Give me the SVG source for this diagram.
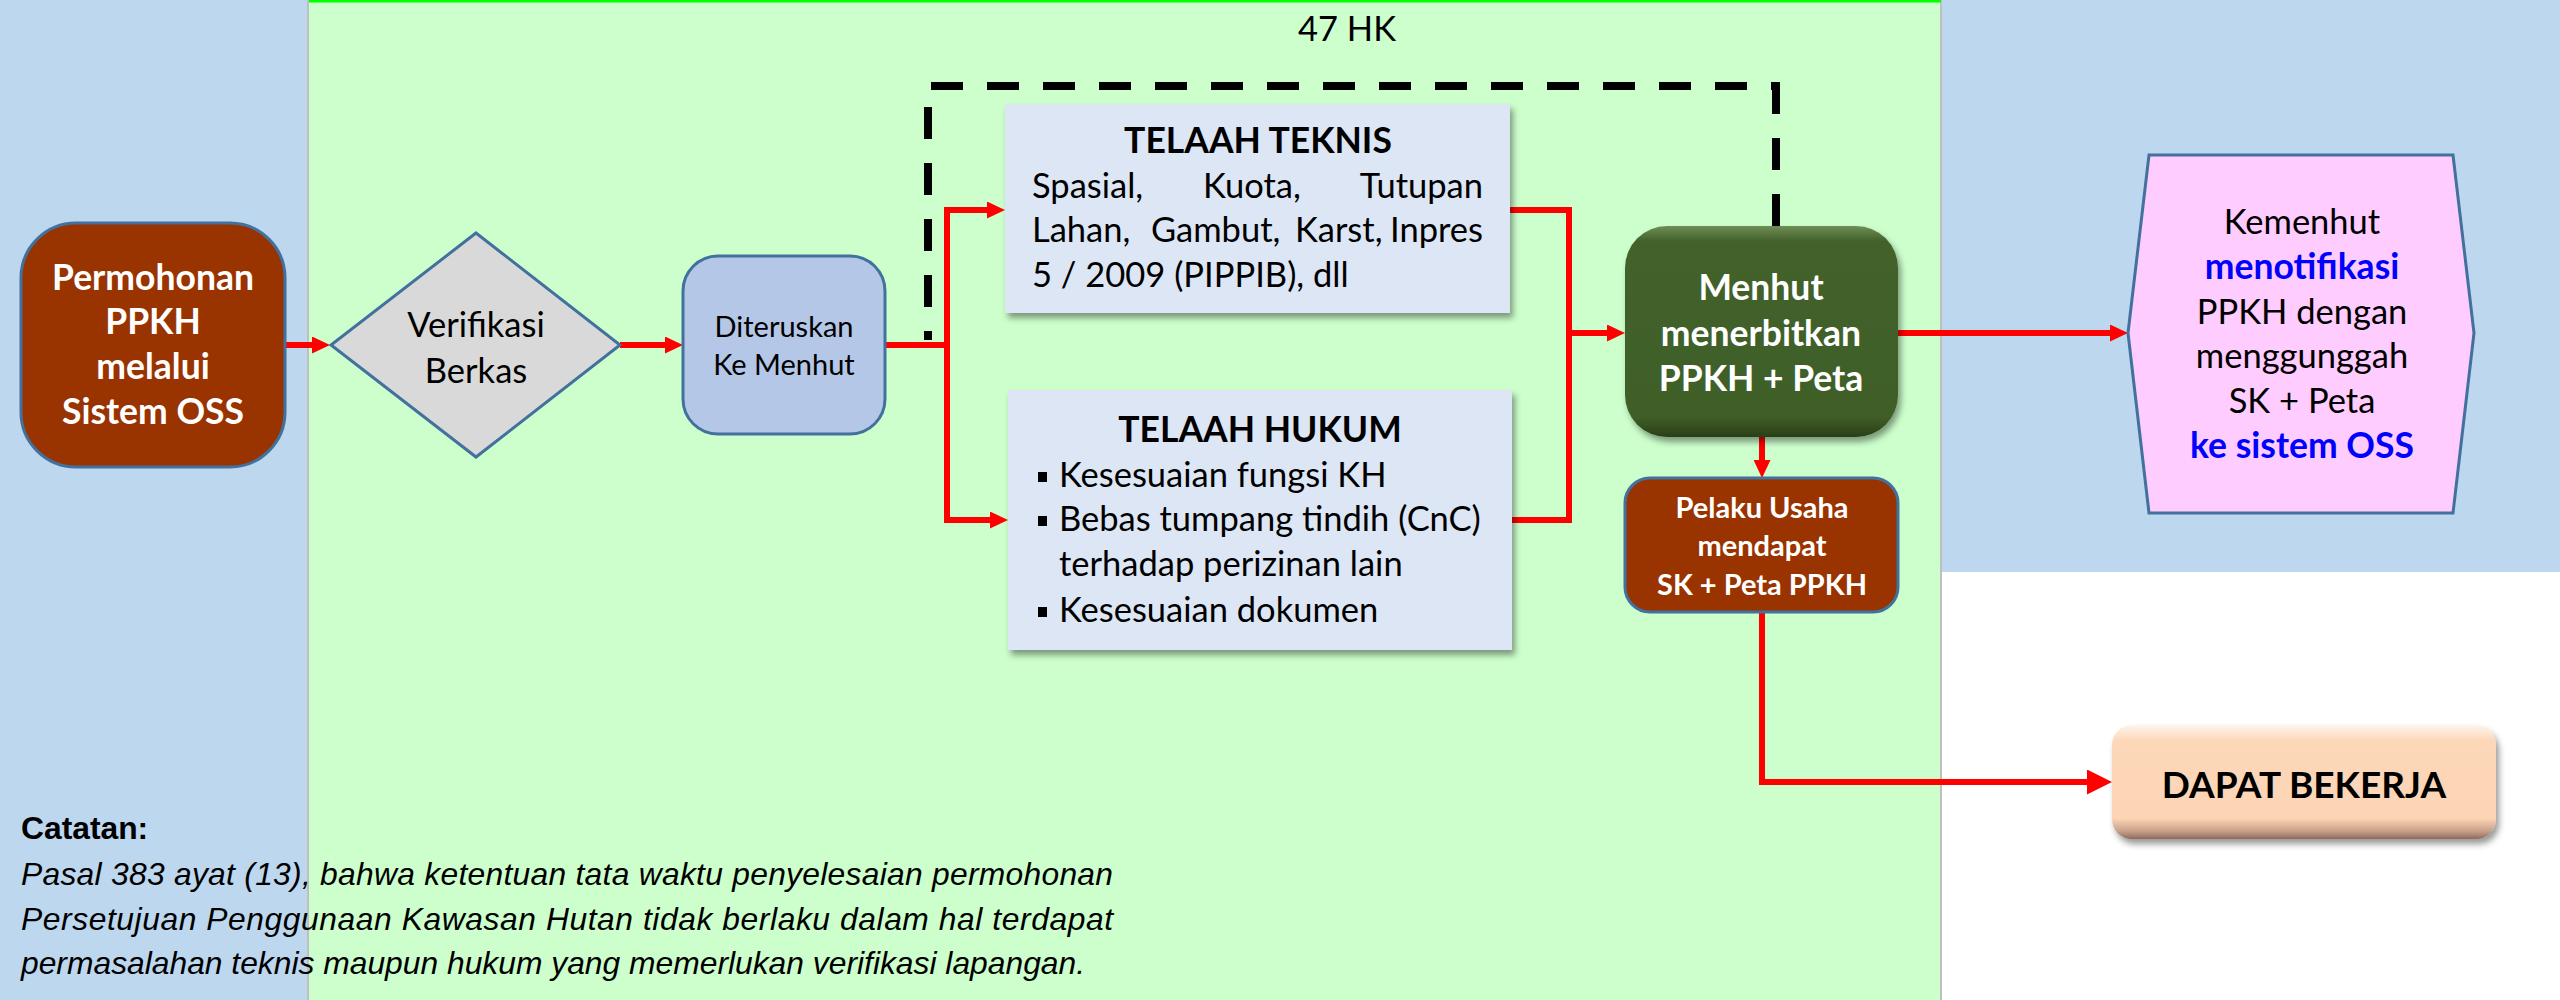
<svg xmlns="http://www.w3.org/2000/svg" width="2560" height="1000" viewBox="0 0 2560 1000">
<style>
.f{font-family:Lato,"Liberation Sans",sans-serif}
.s36{font-size:34.5px}
.s36.b{font-size:35.5px}
.s32{font-size:29px}
.s40{font-size:37px}
.b{font-weight:700}
.w{fill:#ffffff}
.k{fill:#000000}
.bl{fill:#0000ff}
.c{text-anchor:middle}
.note{font-family:"Liberation Sans",Arial,sans-serif;font-size:31.8px;fill:#000}
.red{stroke:#ff0000;stroke-width:6;fill:none}
.dash{stroke:#000;stroke-width:8;stroke-dasharray:32 24;fill:none}
.ns{stroke:#41719c;stroke-width:3}
</style>
<defs>
<marker id="ah" markerUnits="userSpaceOnUse" viewBox="0 0 18 17" markerWidth="18" markerHeight="17" refX="6" refY="8.5" orient="auto-start-reverse"><path d="M0,0 L18,8.5 L0,17 z" fill="#ff0000"/></marker>
<marker id="ahb" markerUnits="userSpaceOnUse" viewBox="0 0 25 25" markerWidth="25" markerHeight="25" refX="9" refY="12.5" orient="auto"><path d="M0,0 L25,12.5 L0,25 z" fill="#ff0000"/></marker>
<filter id="sh" x="-10%" y="-10%" width="130%" height="140%"><feDropShadow dx="3" dy="5" stdDeviation="3" flood-color="#000" flood-opacity="0.4"/></filter>
<linearGradient id="gG" x1="0" y1="0" x2="0" y2="1">
<stop offset="0" stop-color="#6f8e57"/><stop offset="0.07" stop-color="#43622b"/><stop offset="0.9" stop-color="#405f28"/><stop offset="1" stop-color="#2a3f18"/>
</linearGradient>
<linearGradient id="gP" x1="0" y1="0" x2="0" y2="1">
<stop offset="0" stop-color="#fff4ea"/><stop offset="0.14" stop-color="#fcd7b8"/><stop offset="0.82" stop-color="#fcd5b5"/><stop offset="0.93" stop-color="#c9a189"/><stop offset="1" stop-color="#8c6b5a"/>
</linearGradient>
</defs>

<g id="background">
<rect x="0" y="0" width="2560" height="1000" fill="#ffffff"/>
<rect x="0" y="0" width="309" height="1000" fill="#bdd7ee"/>
<rect x="309" y="0" width="1632" height="1000" fill="#ccffcc"/>
<rect x="1941" y="0" width="619" height="572" fill="#bdd7ee"/>
<line x1="308" y1="0" x2="308" y2="1000" stroke="#bfbfbf" stroke-width="2"/>
<line x1="1941" y1="0" x2="1941" y2="1000" stroke="#bfbfbf" stroke-width="2"/>
<line x1="309" y1="1" x2="1941" y2="1" stroke="#00ff00" stroke-width="3"/>
<text class="f s36 k c" x="1347" y="41">47 HK</text>
</g>

<g id="connectors">
<line class="dash" x1="928" y1="107" x2="928" y2="340"/>
<line class="dash" x1="931" y1="86" x2="1772" y2="86"/>
<line class="dash" x1="1776" y1="82" x2="1776" y2="226"/>
<path class="red" d="M285,345 H318" marker-end="url(#ah)"/>
<path class="red" d="M620,345 H671" marker-end="url(#ah)"/>
<path class="red" d="M885,345 H947"/>
<path class="red" d="M993,210 H947 V520 H996" marker-start="url(#ah)" marker-end="url(#ah)"/>
<path class="red" d="M1510,210 H1569 V520 H1512"/>
<path class="red" d="M1569,333 H1613" marker-end="url(#ah)"/>
<path class="red" d="M1898,333 H2116" marker-end="url(#ah)"/>
<path class="red" d="M1762,437 V466" marker-end="url(#ah)"/>
<path class="red" d="M1762,612 V782 H2096" marker-end="url(#ahb)"/>
</g>

<g id="permohonan">
<rect class="ns" x="21" y="223" width="264" height="244" rx="55" fill="#993300"/>
<text class="f s36 b w c" x="153" y="290">Permohonan</text>
<text class="f s36 b w c" x="153" y="334">PPKH</text>
<text class="f s36 b w c" x="153" y="379">melalui</text>
<text class="f s36 b w c" x="153" y="424">Sistem OSS</text>
</g>

<g id="verifikasi">
<polygon class="ns" points="476,233 620,345 476,457 331,345" fill="#d9d9d9"/>
<text class="f s36 k c" x="476" y="337">Verifikasi</text>
<text class="f s36 k c" x="476" y="383">Berkas</text>
</g>

<g id="diteruskan">
<rect class="ns" x="683" y="256" width="202" height="178" rx="35" fill="#b4c7e7"/>
<text class="f s32 k c" x="784" y="337">Diteruskan</text>
<text class="f s32 k c" x="784" y="375">Ke Menhut</text>
</g>

<g id="telaah-teknis">
<rect x="1005" y="104" width="505" height="209" fill="#dce6f4" filter="url(#sh)"/>
<text class="f s36 b k c" x="1258" y="153">TELAAH TEKNIS</text>
<text class="f s36 k" y="198"><tspan x="1032">Spasial, </tspan><tspan x="1203">Kuota, </tspan><tspan x="1483" text-anchor="end">Tutupan</tspan></text>
<text class="f s36 k" y="242"><tspan x="1032">Lahan, </tspan><tspan x="1151">Gambut, </tspan><tspan x="1295">Karst, </tspan><tspan x="1483" text-anchor="end">Inpres</tspan></text>
<text class="f s36 k" x="1032" y="287">5 / 2009 (PIPPIB), dll</text>
</g>

<g id="telaah-hukum">
<rect x="1008" y="390" width="504" height="260" fill="#dce6f4" filter="url(#sh)"/>
<text class="f s36 b k c" x="1260" y="442">TELAAH HUKUM</text>
<rect x="1038" y="472" width="9" height="10" fill="#000"/>
<rect x="1038" y="516" width="9" height="10" fill="#000"/>
<rect x="1038" y="607" width="9" height="10" fill="#000"/>
<text class="f s36 k" x="1059" y="487">Kesesuaian fungsi KH</text>
<text class="f s36 k" x="1059" y="531">Bebas tumpang tindih (CnC)</text>
<text class="f s36 k" x="1059" y="576">terhadap perizinan lain</text>
<text class="f s36 k" x="1059" y="622">Kesesuaian dokumen</text>
</g>

<g id="menhut">
<rect x="1625" y="226" width="273" height="211" rx="42" fill="url(#gG)" filter="url(#sh)"/>
<text class="f s36 b w c" x="1761" y="300">Menhut</text>
<text class="f s36 b w c" x="1761" y="346">menerbitkan</text>
<text class="f s36 b w c" x="1761" y="391">PPKH + Peta</text>
</g>

<g id="pelaku-usaha">
<rect class="ns" x="1625" y="478" width="273" height="134" rx="25" fill="#993300"/>
<text class="f s32 b w c" x="1762" y="518">Pelaku Usaha</text>
<text class="f s32 b w c" x="1762" y="556">mendapat</text>
<text class="f s32 b w c" x="1762" y="595">SK + Peta PPKH</text>
</g>

<g id="kemenhut-notifikasi">
<polygon class="ns" points="2149,155 2453,155 2474,333 2453,513 2149,513 2128,333" fill="#ffccff"/>
<text class="f s36 k c" x="2302" y="234">Kemenhut</text>
<text class="f s36 b bl c" x="2302" y="279">menotifikasi</text>
<text class="f s36 k c" x="2302" y="324">PPKH dengan</text>
<text class="f s36 k c" x="2302" y="368">menggunggah</text>
<text class="f s36 k c" x="2302" y="413">SK + Peta</text>
<text class="f s36 b bl c" x="2302" y="458">ke sistem OSS</text>
</g>

<g id="dapat-bekerja">
<rect x="2112" y="725" width="384" height="114" rx="20" fill="url(#gP)" filter="url(#sh)"/>
<text class="f s40 b k c" x="2304" y="798">DAPAT BEKERJA</text>
</g>

<g id="catatan">
<text class="note" x="21" y="839" font-weight="700" font-size="31">Catatan:</text>
<text class="note" x="21" y="885" font-style="italic" textLength="1092" lengthAdjust="spacing">Pasal 383 ayat (13), bahwa ketentuan tata waktu penyelesaian permohonan</text>
<text class="note" x="21" y="930" font-style="italic" textLength="1092" lengthAdjust="spacing">Persetujuan Penggunaan Kawasan Hutan tidak berlaku dalam hal terdapat</text>
<text class="note" x="21" y="974" font-style="italic">permasalahan teknis maupun hukum yang memerlukan verifikasi lapangan.</text>
</g>
</svg>
